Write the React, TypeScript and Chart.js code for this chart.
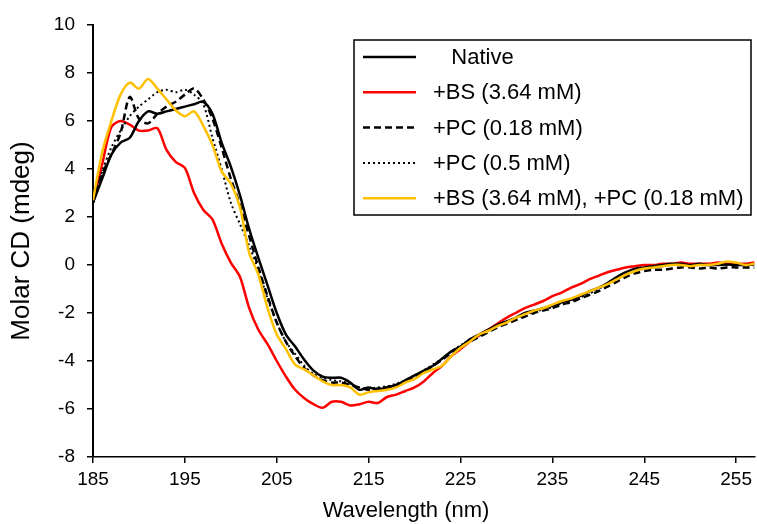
import React, { useEffect, useRef } from 'react';
import { Chart, registerables } from 'chart.js';

Chart.register(...registerables);

const wavelengths = [
  185, 186, 187, 188, 189, 190, 191, 192, 193, 194, 195, 196, 197, 198, 199, 200,
  201, 202, 203, 204, 205, 206, 207, 208, 209, 210, 211, 212, 213, 214, 215, 216,
  217, 218, 219, 220, 221, 222, 223, 224, 225, 226, 227, 228, 229, 230, 231, 232,
  233, 234, 235, 236, 237, 238, 239, 240, 241, 242, 243, 244, 245, 246, 247, 248,
  249, 250, 251, 252, 253, 254, 255, 256, 257, 258, 259, 260,
];

const nativeCD = [
  2.6, 3.6, 4.6, 5.1, 5.3, 6.0, 6.4, 6.3, 6.4, 6.5, 6.6, 6.7, 6.8, 6.3, 5.1, 4.1,
  2.9, 1.5, 0.3, -0.85, -2.0, -2.9, -3.4, -3.95, -4.4, -4.65, -4.7, -4.7, -4.9, -5.2, -5.1, -5.2,
  -5.1, -5.0, -4.8, -4.6, -4.4, -4.2, -3.9, -3.6, -3.4, -3.1, -2.9, -2.7, -2.5, -2.35, -2.2, -2.0,
  -1.9, -1.8, -1.7, -1.55, -1.45, -1.3, -1.1, -0.95, -0.75, -0.5, -0.3, -0.15, -0.1, -0.05, 0.0, 0.05,
  0.05, 0.0, 0.05, 0.0, 0.0, 0.02, 0.0, 0.0, 0.02, 0.0, 0.0, 0.0,
];

const bsCD = [
  2.6, 4.2, 5.75, 6.0, 5.85, 5.6, 5.6, 5.7, 4.8, 4.3, 4.05, 3.0, 2.3, 1.9, 0.9, 0.1,
  -0.5, -1.8, -2.7, -3.3, -4.0, -4.65, -5.2, -5.55, -5.8, -5.95, -5.7, -5.7, -5.85, -5.8, -5.7, -5.75,
  -5.5, -5.4, -5.25, -5.1, -4.85, -4.5, -4.2, -3.8, -3.5, -3.2, -2.95, -2.7, -2.45, -2.2, -2.0, -1.8,
  -1.65, -1.5, -1.3, -1.15, -0.95, -0.8, -0.6, -0.45, -0.3, -0.2, -0.1, -0.05, 0.0, 0.0, 0.05, 0.05,
  0.1, 0.05, 0.05, 0.05, 0.1, 0.05, 0.05, 0.05, 0.1, 0.05, 0.05, 0.05,
];

const pc018CD = [
  2.6, 3.8, 4.6, 5.5, 7.0, 6.1, 5.9, 6.3, 6.6, 6.8, 7.1, 7.35, 6.9, 6.1, 4.9, 3.6,
  2.5, 1.2, -0.1, -1.3, -2.4, -3.2, -3.8, -4.3, -4.6, -4.8, -4.9, -4.9, -5.0, -5.1, -5.2, -5.15,
  -5.1, -5.0, -4.85, -4.65, -4.45, -4.2, -3.95, -3.65, -3.4, -3.2, -3.0, -2.8, -2.6, -2.45, -2.3, -2.15,
  -2.0, -1.9, -1.8, -1.65, -1.55, -1.4, -1.25, -1.1, -0.9, -0.7, -0.5, -0.35, -0.25, -0.2, -0.2, -0.15,
  -0.1, -0.1, -0.15, -0.1, -0.15, -0.1, -0.1, -0.1, -0.1, -0.1, -0.1, -0.1,
];

const pc05CD = [
  2.6, 3.9, 4.9, 5.6, 6.2, 6.6, 6.9, 7.2, 7.3, 7.2, 7.3, 7.1, 6.7, 5.3, 4.0, 2.6,
  1.7, 0.8, -0.2, -1.4, -2.4, -3.2, -3.7, -4.2, -4.55, -4.7, -4.8, -4.85, -4.95, -5.1, -5.15, -5.1,
  -5.05, -4.95, -4.8, -4.6, -4.4, -4.15, -3.9, -3.6, -3.35, -3.15, -2.95, -2.75, -2.55, -2.4, -2.25, -2.1,
  -1.95, -1.85, -1.75, -1.6, -1.5, -1.35, -1.2, -1.0, -0.8, -0.6, -0.4, -0.25, -0.15, -0.1, -0.05, 0.0,
  0.0, 0.0, 0.0, 0.0, 0.0, 0.0, 0.0, 0.0, 0.0, 0.0, 0.0, 0.0,
];

const bsPcCD = [
  2.7, 4.7, 6.0, 7.1, 7.6, 7.35, 7.75, 7.35, 6.9, 6.45, 6.2, 6.4, 5.8, 5.0, 3.9, 3.4,
  2.4, 0.5, -0.4, -1.8, -2.9, -3.5, -4.15, -4.35, -4.6, -4.85, -5.0, -5.0, -5.1, -5.4, -5.3, -5.25,
  -5.2, -5.1, -4.9, -4.75, -4.5, -4.35, -4.2, -3.8, -3.45, -3.2, -2.9, -2.75, -2.55, -2.4, -2.2, -2.05,
  -1.9, -1.8, -1.65, -1.5, -1.4, -1.25, -1.1, -0.95, -0.8, -0.6, -0.4, -0.25, -0.15, -0.1, -0.05, 0.0,
  0.0, -0.05, 0.0, 0.0, 0.05, 0.15, 0.1, 0.0, 0.05, 0.05, 0.05, 0.05,
];

const seriesLabels = [
  '   Native',
  '+BS (3.64 mM)',
  '+PC (0.18 mM)',
  '+PC (0.5 mM)',
  '+BS (3.64 mM), +PC (0.18 mM)',
];

const xTitle = 'Wavelength (nm)';
const yTitle = 'Molar CD (mdeg)';
const xTickValues = [185, 195, 205, 215, 225, 235, 245, 255];
const yTickValues = [-8, -6, -4, -2, 0, 2, 4, 6, 8, 10];

const FONT = "'Liberation Sans', Arial, sans-serif";

const boxLegend = {
  id: 'boxLegend',
  afterDraw(chart: any) {
    const ctx = chart.ctx;
    const datasets = chart.data.datasets;
    const boxL = 354;
    const boxT = 40;
    const boxR = 751;
    const boxB = 215;
    ctx.save();
    ctx.fillStyle = '#fff';
    ctx.fillRect(boxL, boxT, boxR - boxL, boxB - boxT);
    ctx.strokeStyle = '#000';
    ctx.lineWidth = 1.5;
    ctx.setLineDash([]);
    ctx.strokeRect(boxL, boxT, boxR - boxL, boxB - boxT);
    const rowH = 35.3;
    const firstY = 57;
    datasets.forEach((ds: any, i: number) => {
      const y = firstY + i * rowH;
      ctx.beginPath();
      ctx.strokeStyle = ds.borderColor;
      ctx.lineWidth = ds.borderWidth;
      ctx.setLineDash(ds.borderDash || []);
      ctx.moveTo(363, y);
      ctx.lineTo(416, y);
      ctx.stroke();
      ctx.setLineDash([]);
      ctx.fillStyle = '#000';
      ctx.font = `22px ${FONT}`;
      ctx.textBaseline = 'middle';
      ctx.textAlign = 'left';
      ctx.fillText(ds.label, 433, y + 1);
    });
    // x-axis title
    ctx.font = `22px ${FONT}`;
    ctx.textAlign = 'center';
    ctx.textBaseline = 'middle';
    ctx.fillStyle = '#000';
    ctx.fillText(xTitle, 406, 511);
    ctx.restore();
  },
};

export default function App() {
  const canvasRef = useRef<HTMLCanvasElement | null>(null);

  useEffect(() => {
    const canvas = canvasRef.current;
    if (!canvas) return;
    const mk = (vals: number[]) => wavelengths.map((w, i) => ({ x: w, y: vals[i] }));
    const chart = new Chart(canvas, {
      type: 'line',
      data: {
        datasets: [
          { label: seriesLabels[0], data: mk(nativeCD), borderColor: '#000000', borderWidth: 2.5, borderDash: [], order: 2 },
          { label: seriesLabels[1], data: mk(bsCD), borderColor: '#FF0000', borderWidth: 2.5, borderDash: [], order: 3 },
          { label: seriesLabels[2], data: mk(pc018CD), borderColor: '#000000', borderWidth: 2.5, borderDash: [7, 4], order: 1 },
          { label: seriesLabels[3], data: mk(pc05CD), borderColor: '#000000', borderWidth: 2, borderDash: [2, 3], order: 1 },
          { label: seriesLabels[4], data: mk(bsPcCD), borderColor: '#FFC000', borderWidth: 2.5, borderDash: [], order: 0 },
        ],
      },
      options: {
        animation: false,
        responsive: false,
        devicePixelRatio: 1,
        layout: { padding: { top: 25, right: 0, left: 0, bottom: 0 } },
        elements: { point: { radius: 0 }, line: { tension: 0.3, fill: false } },
        plugins: { legend: { display: false }, tooltip: { enabled: false } },
        scales: {
          x: {
            type: 'linear',
            min: 185,
            max: 257,
            afterBuildTicks: (s: any) => {
              s.ticks = xTickValues.map((v) => ({ value: v }));
            },
            afterFit: (s: any) => {
              s.height = 67;
            },
            grid: { display: true, drawOnChartArea: false, drawTicks: true, tickLength: 6, color: '#000', lineWidth: 1.5 },
            border: { display: true, color: '#000', width: 1.5 },
            ticks: { color: '#000', font: { family: FONT, size: 19 }, padding: 5, maxRotation: 0, autoSkip: false },
            title: { display: false },
          },
          y: {
            type: 'linear',
            min: -8,
            max: 10,
            afterBuildTicks: (s: any) => {
              s.ticks = yTickValues.map((v) => ({ value: v }));
            },
            afterFit: (s: any) => {
              s.width = 93;
            },
            grid: { display: true, drawOnChartArea: false, drawTicks: true, tickLength: 6, color: '#000', lineWidth: 1.5 },
            border: { display: true, color: '#000', width: 2 },
            ticks: { color: '#000', font: { family: FONT, size: 19 }, padding: 12, autoSkip: false },
            title: { display: true, text: yTitle, color: '#000', font: { family: FONT, size: 26 }, padding: { top: 6, bottom: 0 } },
          },
        },
      },
      plugins: [boxLegend],
    });
    return () => chart.destroy();
  }, []);

  return (
    <div style={{ position: 'absolute', left: 0, top: 0, width: 757, height: 524, background: '#fff' }}>
      <canvas ref={canvasRef} width={757} height={524} style={{ display: 'block' }} />
    </div>
  );
}
